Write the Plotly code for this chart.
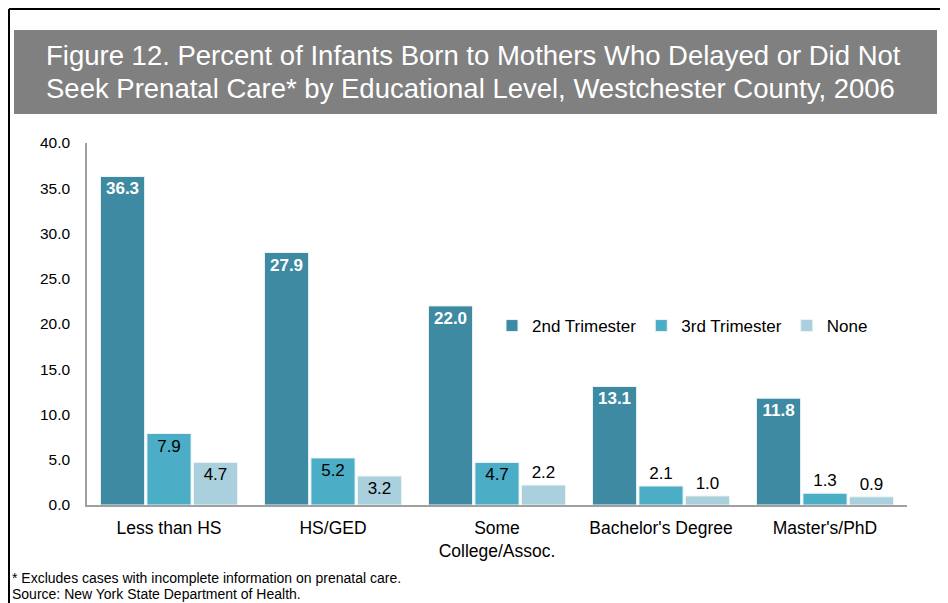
import plotly.graph_objects as go

categories = ["Less than HS", "HS/GED", "Some<br>College/Assoc.", "Bachelor's Degree", "Master's/PhD"]
second_tri = [36.3, 27.9, 22.0, 13.1, 11.8]
third_tri = [7.9, 5.2, 4.7, 2.1, 1.3]
none_care = [4.7, 3.2, 2.2, 1.0, 0.9]
series_names = ["2nd Trimester", "3rd Trimester", "None"]
colors = ["#3D8AA2", "#4BADC6", "#AACFDD"]
y_ticks = [0, 5, 10, 15, 20, 25, 30, 35, 40]

FONT = "Liberation Sans, Arial, sans-serif"

# page offset (body margin) compensation
OFF = 8
W, H = 940, 595
L, R, T, B = 79, 41, 135, 98
PW = W - L - R
PH = H - T - B


def px(x):
    return (x - OFF - L) / PW


def py(y):
    return (H - B - (y - OFF)) / PH


def pos(vals, thr=3.0):
    return ["inside" if v >= thr else "outside" for v in vals]


fig = go.Figure()
for name, vals, col in zip(series_names, [second_tri, third_tri, none_care], colors):
    is_main = name == "2nd Trimester"
    fig.add_trace(go.Bar(
        x=categories, y=vals, name=name,
        marker=dict(color=col, line=dict(color="#EEF4F6", width=1)),
        text=[f"{v:.1f}" for v in vals],
        textposition=pos(vals),
        insidetextanchor="end",
        textangle=0,
        constraintext="none",
        insidetextfont=dict(family=FONT, size=17, color="white" if is_main else "black",
                            weight="bold" if is_main else "normal"),
        outsidetextfont=dict(family=FONT, size=17, color="black"),
        cliponaxis=False,
    ))

shapes = [
    # title box
    dict(type="rect", xref="paper", yref="paper", x0=px(14), x1=px(937), y0=py(114), y1=py(30),
         fillcolor="#808080", line=dict(width=0), layer="below"),
    # outer frame lines
    dict(type="line", xref="paper", yref="paper", x0=px(9), x1=px(948), y0=py(9), y1=py(9),
         line=dict(color="black", width=2)),
    dict(type="line", xref="paper", yref="paper", x0=px(9), x1=px(9), y0=py(9), y1=py(603),
         line=dict(color="black", width=2)),
]

annotations = [
    dict(text="Figure 12. Percent of Infants Born to Mothers Who Delayed or Did Not",
         xref="paper", yref="paper", x=px(44), y=py(56), xanchor="left", yanchor="middle",
         showarrow=False, font=dict(family=FONT, size=27.5, color="white")),
    dict(text="Seek Prenatal Care* by Educational Level, Westchester County, 2006",
         xref="paper", yref="paper", x=px(44), y=py(88), xanchor="left", yanchor="middle",
         showarrow=False, font=dict(family=FONT, size=27.5, color="white")),
    dict(text="* Excludes cases with incomplete information on prenatal care.",
         xref="paper", yref="paper", x=px(10), y=py(578), xanchor="left", yanchor="middle",
         showarrow=False, font=dict(family=FONT, size=14, color="black")),
    dict(text="Source: New York State Department of Health.",
         xref="paper", yref="paper", x=px(10), y=py(594), xanchor="left", yanchor="middle",
         showarrow=False, font=dict(family=FONT, size=14, color="black")),
]

fig.update_layout(
    width=W, height=H,
    margin=dict(l=L, r=R, t=T, b=B, autoexpand=False),
    paper_bgcolor="white", plot_bgcolor="white",
    font=dict(family=FONT, size=15, color="black"),
    barmode="group", bargap=0.15, bargroupgap=0.05,
    showlegend=True,
    legend=dict(orientation="h", x=px(492), y=py(326), xanchor="left", yanchor="middle",
                font=dict(family=FONT, size=17, color="black"), bgcolor="rgba(0,0,0,0)",
                itemwidth=30, traceorder="normal"),
    shapes=shapes, annotations=annotations,
    xaxis=dict(showline=True, linecolor="#A0A0A0", linewidth=1.5, ticks="", showgrid=False,
               tickfont=dict(family=FONT, size=17.5, color="black"), ticklabelstandoff=6),
    yaxis=dict(range=[0, 40], tickvals=y_ticks, ticktext=[f"{v:.1f}" for v in y_ticks],
               showline=True, linecolor="#A0A0A0", linewidth=1.5, ticks="", showgrid=False,
               zeroline=False, tickfont=dict(family=FONT, size=15.5, color="black"),
               ticklabelstandoff=12),
)

fig.write_html("out.html")
